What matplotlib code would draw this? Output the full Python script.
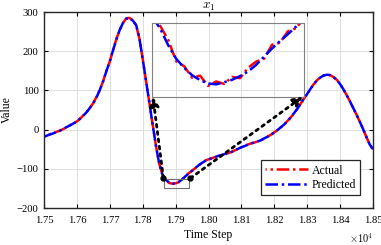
import numpy as np
import matplotlib
matplotlib.use('Agg')
import matplotlib.pyplot as plt
from matplotlib.patches import Rectangle

plt.rcParams['font.family'] = ['Liberation Serif', 'DejaVu Serif']
plt.rcParams['mathtext.fontset'] = 'cm'

# main series, one value every 10 time steps (17500 .. 18500)
time_step = np.arange(17500, 18501, 10)
predicted = [-18, -15, -12, -9, -5, -2, 2, 7, 11, 16,
             21, 28, 36, 45, 56, 68, 83, 102, 124, 150,
             174, 203, 230, 254, 272, 283, 285, 278, 267, 232,
             180, 125, 70, 14, -40, -86, -115, -128, -135, -138,
             -137, -133, -127, -119, -112, -105, -98, -91, -85, -80,
             -76, -73, -70, -67, -65, -62, -60, -57, -53, -49,
             -45, -42, -38, -35, -33, -30, -27, -22, -18, -13,
             -7, -1, 6, 13, 22, 31, 42, 53, 66, 79,
             91, 104, 116, 126, 133, 138, 140, 139, 134, 127,
             116, 103, 88, 72, 55, 38, 20, 1, -19, -38,
             -50]
actual = [-18, -15, -11, -9, -5, -2, 2, 7, 12, 16,
          21, 28, 37, 45, 56, 68, 84, 102, 124, 151,
          174, 203, 231, 254, 272, 284, 285, 278, 266, 232,
          180, 124, 70, 14, -40, -86, -115, -127, -136, -138,
          -137, -134, -127, -119, -111, -105, -98, -91, -85, -79,
          -76, -73, -70, -67, -65, -62, -60, -57, -53, -49,
          -45, -42, -38, -35, -33, -30, -27, -22, -18, -13,
          -7, -1, 6, 13, 22, 31, 42, 53, 66, 79,
          91, 104, 116, 126, 133, 138, 140, 139, 134, 127,
          116, 103, 88, 72, 55, 38, 20, 1, -19, -38,
          -50]

# zoomed window around the minimum
zoom_t = np.arange(17866, 17943, 4)
zoom_pred = [-122.5, -125.5, -129.5, -132.8, -135.0, -136.8, -138.0, -138.8, -139.0, -138.5,
             -137.9, -137.0, -135.9, -134.3, -132.3, -130.3, -128.5, -126.8, -125.0, -123.2]
zoom_act = [-122.6, -124.8, -128.2, -133.4, -134.6, -137.4, -136.9, -139.4, -138.3, -138.9,
            -137.2, -137.5, -135.0, -133.5, -132.8, -129.4, -128.9, -126.1, -125.4, -122.9]

xticks = np.arange(17500, 18501, 100)
xticklabels = ['%.2f' % (v / 1e4) for v in xticks]
yticks = [-200, -100, 0, 100, 200, 300]

fig = plt.figure(figsize=(3.81, 2.45), dpi=100)
ax = fig.add_axes([0.1155, 0.151, 0.8635, 0.80])

# red dashes are shifted so they show through the gaps of the blue line
red_style = dict(color='red', linestyle=(4.5, (5, 1.5, 1, 1.5)), linewidth=1.8)
blue_style = dict(color='blue', linestyle=(0, (5, 1.5, 1, 1.5)), linewidth=1.8)
ax.plot(time_step, actual, label='Actual', **red_style)
ax.plot(time_step, predicted, label='Predicted', **blue_style)

ax.set_xlim(17500, 18500)
ax.set_ylim(-200, 300)
ax.set_xticks(xticks)
ax.set_xticklabels(xticklabels)
ax.set_yticks(yticks)
ax.tick_params(direction='in', top=True, right=True, labelsize=7.7, length=3, width=0.8, pad=4)
ax.tick_params(axis='x', pad=5.5)
ax.grid(True, color='#dedede', linewidth=0.7)
ax.set_axisbelow(True)
for s in ax.spines.values():
    s.set_color('#262626')
    s.set_linewidth(1.0)

ax.set_xlabel('Time Step', fontsize=8.5, labelpad=3)
ax.set_ylabel('Value', fontsize=8.5, labelpad=3)
ax.set_title('$x_1$', fontsize=9.5, pad=2)
ax.text(1.0, -0.118, r'$\times10^4$', transform=ax.transAxes, ha='right', va='top', fontsize=7.5)

leg = ax.legend(loc='lower right', fontsize=8.5, frameon=True, fancybox=False,
                edgecolor='#262626', framealpha=1, borderaxespad=1.1,
                handlelength=3.6, handletextpad=0.3, borderpad=0.35, labelspacing=0.2)
leg.get_frame().set_linewidth(0.9)

# marker box on the main curve
ax.add_patch(Rectangle((17866, -150), 76, 25, fill=False, edgecolor='#707070', linewidth=0.8, zorder=4))

# zoomed inset
ins = ax.inset_axes([17829, 84, 461, 189], transform=ax.transData)
ins.set_facecolor('none')
ins.plot(zoom_t, zoom_act, **red_style)
ins.plot(zoom_t, zoom_pred, **blue_style)
ins.set_xlim(17866, 17942)
ins.set_ylim(-142, -124)
ins.set_xticks([])
ins.set_yticks([])
for s in ins.spines.values():
    s.set_color('#808080')
    s.set_linewidth(0.8)

# dotted arrows from the box to the inset
arrow_start = [(17863, -124), (17945, -124)]
arrow_end = [(17831, 84), (18287, 84)]
for (x0, y0), (x1, y1) in zip(arrow_start, arrow_end):
    ax.plot([x0], [y0], 'o', color='black', markersize=3.5, zorder=6)
    ax.annotate('', xy=(x1, y1), xytext=(x0, y0),
                arrowprops=dict(arrowstyle='-|>', linestyle=':', linewidth=2.0,
                                color='black', mutation_scale=14, shrinkA=0, shrinkB=0),
                zorder=6)

fig.savefig('out.png', dpi=100)
